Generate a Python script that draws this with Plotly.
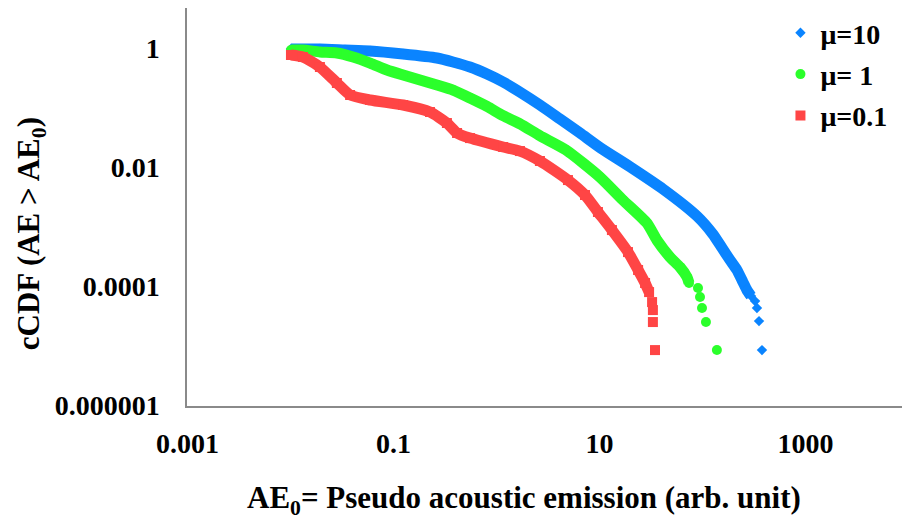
import plotly.graph_objects as go

# Complementary CDF of pseudo acoustic emission amplitudes for three values of mu
series_names = ["μ=10", "μ= 1", "μ=0.1"]
series_colors = ["#0A84FF", "#2BFF2B", "#FF4545"]
series_symbols = ["diamond", "circle", "square"]

ae_mu10 = [0.0101, 0.0193, 0.0338, 0.0592, 0.124, 0.264, 0.378, 0.553, 0.809, 1.16,
           1.69, 2.64, 4.14, 6.47, 10.3, 20.7, 41.4, 88.5, 126, 155,
           185, 216, 247, 270, 296, 324, 338, 354, 378]
ccdf_mu10 = [0.981, 0.981, 0.943, 0.908, 0.808, 0.692, 0.593, 0.488, 0.372, 0.273,
             0.185, 0.112, 0.0650, 0.0378, 0.0211, 0.00973, 0.00431, 0.00151, 0.000753, 0.000438,
             0.000275, 0.000187, 0.000117, 0.0000859, 0.0000681, 0.0000561, 0.0000428, 0.0000258, 0.0000084]

ae_mu1 = [0.0101, 0.0132, 0.0193, 0.0282, 0.0405, 0.0592, 0.0865, 0.124, 0.181, 0.264,
          0.378, 0.553, 0.809, 1.16, 1.69, 2.64, 4.73, 10.1, 16.9, 28.9,
          36.1, 48.3, 60.5, 70.8, 74.0, 90.4, 94.6, 98.9, 108, 138]
ccdf_mu1 = [0.943, 0.943, 0.873, 0.840, 0.719, 0.570, 0.435, 0.358, 0.295, 0.243,
            0.200, 0.147, 0.106, 0.0740, 0.0540, 0.0340, 0.0196, 0.00687, 0.00281, 0.00115,
            0.000597, 0.000309, 0.000209, 0.000142, 0.000113, 0.0000929, 0.0000655, 0.0000428, 0.0000249, 0.0000084]

ae_mu01 = [0.0101, 0.0132, 0.0193, 0.0282, 0.0379, 0.0592, 0.124, 0.226, 0.330, 0.414,
           0.553, 1.16, 1.69, 2.64, 4.94, 7.23, 9.66, 13.2, 18.9, 23.7,
           27.7, 30.3, 32.4, 33.0, 33.0, 34.6]
ccdf_mu01 = [0.777, 0.719, 0.488, 0.263, 0.165, 0.136, 0.112, 0.0853, 0.0557, 0.0378,
             0.0311, 0.0220, 0.0188, 0.0128, 0.00611, 0.00342, 0.00177, 0.000880, 0.000375, 0.000187,
             0.000113, 0.0000795, 0.0000540, 0.0000396, 0.0000249, 0.0000084]

# number of leading points that form the continuous band of each series
band_lengths = [25, 25, 22]

x_tick_vals = [0.001, 0.1, 10, 1000]
x_tick_text = ["0.001", "0.1", "10", "1000"]
y_tick_vals = [1, 0.01, 0.0001, 0.000001]
y_tick_text = ["1", "0.01", "0.0001", "0.000001"]

FONT = "Liberation Serif"
AXIS_GREY = "#8A8A8A"

xs = [ae_mu10, ae_mu1, ae_mu01]
ys = [ccdf_mu10, ccdf_mu1, ccdf_mu01]

fig = go.Figure()
for name, color, symbol, x, y, nb in zip(series_names, series_colors, series_symbols, xs, ys, band_lengths):
    fig.add_trace(go.Scatter(
        x=x[:nb], y=y[:nb], mode="lines",
        line=dict(color=color, width=11, shape="spline", smoothing=0.6),
        legendgroup=name, showlegend=False, hoverinfo="skip",
    ))
    fig.add_trace(go.Scatter(
        x=x, y=y, mode="markers", name=name, legendgroup=name,
        marker=dict(color=color, symbol=symbol, size=8 if symbol == "diamond" else 10,
                    line=dict(width=0)),
    ))

fig.update_layout(
    width=902, height=521, autosize=False,
    margin=dict(l=187, r=0, t=8, b=115),
    paper_bgcolor="white", plot_bgcolor="white",
    font=dict(family=FONT, size=28, color="black", weight="bold"),
    showlegend=True,
    legend=dict(
        x=0.83, y=1.0, xanchor="left", yanchor="top",
        font=dict(family=FONT, size=28, color="black", weight="bold"),
        bgcolor="rgba(0,0,0,0)", tracegroupgap=2,
        itemsizing="trace",
    ),
    xaxis=dict(
        type="log", range=[-3.005, 3.937],
        tickvals=x_tick_vals, ticktext=x_tick_text,
        showgrid=False, zeroline=False, ticks="",
        showline=True, linecolor=AXIS_GREY, linewidth=1.5,
        tickfont=dict(family=FONT, size=28, color="black", weight="bold"),
        ticklabelstandoff=12,
    ),
    yaxis=dict(
        type="log", range=[-6.017, 0.682],
        tickvals=y_tick_vals, ticktext=y_tick_text,
        showgrid=False, zeroline=False, ticks="",
        showline=True, linecolor=AXIS_GREY, linewidth=1.5,
        tickfont=dict(family=FONT, size=28, color="black", weight="bold"),
        ticklabelstandoff=20,
    ),
    annotations=[
        dict(text="AE<sub>0</sub>= Pseudo acoustic emission (arb. unit)",
             xref="paper", yref="paper", x=0.472, y=-0.236,
             xanchor="center", yanchor="middle", showarrow=False,
             font=dict(family=FONT, size=31, color="black", weight="bold")),
        dict(text="cCDF (AE &gt; AE<sub>0</sub>)",
             xref="paper", yref="paper", x=-0.218, y=0.432,
             xanchor="center", yanchor="middle", showarrow=False, textangle=-90,
             font=dict(family=FONT, size=31, color="black", weight="bold")),
    ],
)

fig.write_html("out.html")
